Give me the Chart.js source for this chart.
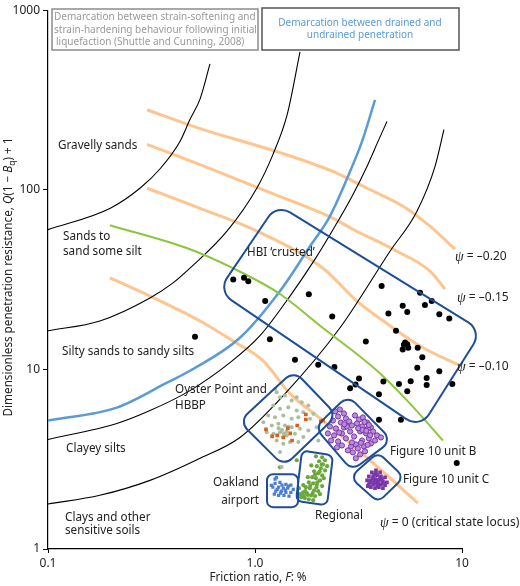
<!DOCTYPE html>
<html>
<head>
<meta charset="utf-8">
<script src="https://cdn.jsdelivr.net/npm/chart.js@4.4.0/dist/chart.umd.min.js"></script>
<style>
  body { margin: 0; background: #fff; }
  #wrap { width: 520px; height: 586px; }
</style>
</head>
<body>
<div id="wrap"><canvas id="myChart" width="520" height="586"></canvas></div>
<script>
// axis ticks
const xTicks = [0.1, 1, 10];
const xTickLabels = ['0.1', '1.0', '10'];
const yTicks = [1, 10, 100, 1000];
const yTickLabels = ['1', '10', '100', '1000'];

// soil behaviour boundaries, points are [F %, Q(1-Bq)+1]
const boundaryGravel = [[0.1,60],[0.2,79],[0.278,102],[0.348,131],[0.434,186],[0.485,246],[0.543,321],[0.606,502]];
const boundarySands = [[0.1,16.4],[0.178,18.6],[0.311,25],[0.402,30.3],[0.485,36.6],[0.732,58.8],[1.02,102],[1.22,157],[1.43,262],[1.65,586]];
const boundarySilts = [[0.1,4.07],[0.215,5.0],[0.311,5.9],[0.485,7.62],[0.757,10.9],[1.057,15.4],[1.476,25.6],[1.95,41.1],[2.435,62.7],[2.94,91.9],[3.475,135],[3.93,186],[4.34,240]];
const boundaryClays = [[0.1,1.78],[0.178,1.99],[0.311,2.41],[0.543,3.2],[0.846,4.18],[1.37,7.15],[2.57,17],[4.49,45.5],[6.06,76],[7.41,135],[8.18,216]];

// drained / undrained and strain softening / hardening lines
const drainedLine = [[0.1,5.19],[0.215,6.13],[0.376,8.44],[0.485,9.83],[0.846,15.0],[1.321,27.3],[1.844,48.5],[2.30,71.2],[2.97,138],[3.29,186],[3.80,317]];
const softeningLine = [[0.199,63.5],[0.485,46.7],[0.783,36.6],[1.32,26.3],[2.13,17.0],[3.89,9.83],[5.61,6.45],[8.09,4.02]];

// state parameter contours
const psiM020 = [[0.301,279],[0.543,219],[1.277,163],[2.38,126.5],[3.475,102],[5.19,81],[7.0,62.7],[9.25,46.7]];
const psiM015 = [[0.301,179],[0.543,138],[1.143,98],[2.382,69.4],[2.974,60.3],[4.85,45.5],[7.0,35.3],[8.28,28.0]];
const psiM010 = [[0.301,102],[0.543,78.8],[1.023,58.8],[2.13,36.6],[3.11,24.0],[4.49,17.5],[6.48,13.2],[9.78,10.5]];
const psi0 = [[0.199,32.3],[0.311,25.6],[0.543,18.6],[0.783,14.4],[1.093,11.2],[1.476,7.33],[2.13,5.19],[3.59,3.12],[6.13,1.80]];

// site data
const hbiPts = [[0.785,31.7],[0.885,32.4],[0.928,31.0],[1.12,24.0],[1.82,26.2],[2.36,19.7],[4.09,29.1],[6.27,26.7],[7.14,24.0],[6.62,22.8],[5.17,22.6],[5.44,20.9],[7.77,20.3],[8.68,19.2],[4.41,20.5],[4.80,16.4],[3.43,14.3],[5.31,14.1],[5.44,13.8],[5.17,12.9],[6.11,13.2],[6.43,11.7],[6.08,10.2],[7.77,9.75],[5.65,8.58],[6.75,8.96],[6.75,8.19],[4.96,8.30],[4.17,8.55],[5.44,7.55],[3.97,7.27],[3.06,8.23],[3.18,8.91],[2.88,7.85],[2.42,10.3],[2.02,10.6],[1.56,11.3],[1.18,14.7],[0.513,15.2],[3.97,5.24],[5.07,5.24],[8.98,8.30],[9.43,3.01],[5.24,13.7],[5.5,13.2]];
const oysterPts = [[1.273,7.455],[1.321,6.995],[1.396,7.148],[1.590,6.995],[1.504,6.706],[1.681,6.562],[1.810,6.291],[1.226,6.291],[1.321,6.032],[1.449,6.156],[1.590,5.903],[1.712,5.775],[1.913,5.659],[1.159,5.536],[1.250,5.417],[1.370,5.536],[1.504,5.308],[1.619,5.417],[1.844,5.308],[1.097,5.081],[1.205,4.873],[1.296,4.980],[1.396,4.873],[1.504,4.768],[1.650,4.672],[1.810,4.571],[1.987,4.768],[1.139,4.473],[1.226,4.382],[1.321,4.473],[1.423,4.289],[1.560,4.382],[1.712,4.197],[2.022,4.023],[1.273,4.023],[1.370,3.857],[1.476,3.937],[1.619,3.937],[1.321,3.465],[1.346,2.861],[1.250,7.785],[1.35,4.6],[1.42,4.5],[1.30,4.7],[1.45,4.8],[1.38,4.4]];
const hbbpPts = [[1.76,5.61],[1.76,5.26],[1.60,4.87],[1.48,4.40],[1.28,4.29],[1.13,4.63],[2.08,5.13],[2.13,5.20],[1.51,4.02],[1.37,4.18],[1.44,4.69],[1.21,4.24]];
const unitBPts = [[2.44,5.83],[2.57,5.98],[2.69,5.68],[2.52,5.47],[2.75,5.33],[2.38,5.19],[2.60,5.06],[2.85,5.13],[2.30,4.81],[2.46,4.69],[2.69,4.75],[2.94,4.87],[2.25,4.40],[2.41,4.29],[2.63,4.40],[2.88,4.51],[2.33,4.02],[2.52,3.97],[2.75,4.13],[3.01,4.23],[3.04,5.54],[3.18,5.26],[3.32,5.40],[3.11,5.00],[3.29,4.81],[3.48,5.06],[3.63,4.75],[3.22,4.51],[3.44,4.40],[3.72,4.51],[3.89,4.29],[3.55,4.13],[3.29,4.02],[3.07,3.82],[2.91,3.73],[3.14,3.63],[3.36,3.73],[3.63,3.87],[2.97,3.45],[3.22,3.36],[2.81,3.54],[3.07,3.20],[2.63,3.77],[2.49,3.68],[3.80,4.02],[4.06,4.18],[3.40,3.50],[3.51,4.69],[2.94,3.92],[2.78,4.81],[3.3,4.6],[3.45,4.55],[3.55,4.9],[3.38,5.1],[3.15,4.7],[3.6,4.3],[3.25,3.9],[3.5,3.8],[2.55,4.45],[2.7,4.95]];
const unitCPts = [[3.67,2.67],[3.84,2.74],[4.02,2.67],[3.55,2.54],[3.72,2.54],[3.89,2.57],[4.06,2.54],[4.25,2.51],[3.48,2.41],[3.63,2.41],[3.80,2.45],[3.97,2.41],[4.15,2.38],[4.34,2.35],[3.55,2.29],[3.72,2.29],[3.89,2.32],[4.06,2.29],[4.25,2.27],[3.63,2.21],[3.80,2.18],[3.97,2.21],[4.15,2.18],[3.89,2.24],[3.76,2.35],[4.02,2.48],[3.84,2.64],[3.51,2.24],[3.7,2.47],[3.92,2.42],[4.1,2.45],[3.78,2.6],[3.95,2.3],[4.2,2.32],[3.6,2.35]];
const oaklandPts = [[1.25,2.32],[1.32,2.35],[1.41,2.29],[1.49,2.27],[1.22,2.21],[1.30,2.21],[1.37,2.18],[1.44,2.18],[1.53,2.15],[1.26,2.10],[1.34,2.10],[1.41,2.07],[1.49,2.07],[1.30,1.99],[1.38,1.99],[1.46,1.97],[1.24,2.02],[1.35,2.27],[1.28,2.15],[1.40,2.13],[1.33,2.05],[1.45,2.24],[1.20,2.26],[1.25,2.45],[1.27,2.5]];
const regionalPts = [[2.11,3.24],[2.18,3.12],[2.04,3.08],[2.13,2.96],[1.99,2.89],[2.08,2.81],[2.18,2.74],[1.93,2.71],[2.02,2.64],[2.11,2.57],[1.89,2.51],[1.97,2.48],[2.06,2.41],[1.82,2.35],[1.91,2.32],[1.99,2.27],[1.76,2.21],[1.84,2.18],[1.93,2.12],[2.02,2.10],[1.71,2.07],[1.78,2.05],[1.87,1.99],[1.95,1.97],[1.67,1.94],[1.74,1.92],[1.82,1.89],[1.91,1.87],[1.65,2.02],[2.06,2.02],[2.11,2.24],[2.15,2.48],[2.23,2.89],[1.59,3.12],[1.32,2.85],[1.71,2.27],[1.63,2.18],[1.80,2.51],[1.87,2.92],[1.97,3.28],[1.95,2.6],[2.0,2.35],[1.85,2.25],[1.9,2.05],[1.8,2.0],[2.05,2.7],[1.75,2.1],[2.1,2.95],[1.98,2.2],[1.72,1.98]];

// group outlines (corner points in F, Q)
const hbiBox = [[1.277,83],[12.5,16.4],[6.27,4.69],[0.663,27.3]];
const oysterBox = [[1.543,9.83],[2.489,5.54],[1.381,2.89],[0.837,5.13]];
const unitBBox = [[2.813,7.15],[4.59,4.02],[2.941,2.74],[1.95,4.75]];
const unitCBox = [[3.93,3.45],[5.25,2.51],[3.93,1.82],[2.876,2.51]];
const oaklandBox = [[1.143,2.61],[1.614,2.61],[1.614,1.71],[1.143,1.71]];
const regionalBox = [[1.687,3.54],[2.382,3.32],[2.227,1.75],[1.578,1.85]];

const FONT = '"Noto Sans", sans-serif';
const xy = arr => arr.map(p => ({ x: p[0], y: p[1] }));

function lineSet(arr, color, width, order) {
  return { data: xy(arr), showLine: true, borderColor: color, borderWidth: width,
    pointRadius: 0, fill: false, cubicInterpolationMode: 'monotone', order: order };
}
function dotSet(arr, style, radius, fillCol, edgeCol, order) {
  return { data: xy(arr), showLine: false, pointStyle: style, pointRadius: radius,
    backgroundColor: fillCol, borderColor: edgeCol, borderWidth: edgeCol === fillCol ? 0 : 1, order: order };
}

function roundPoly(ctx, pts, r) {
  const n = pts.length;
  const a = pts[n - 1], b = pts[0];
  ctx.beginPath();
  ctx.moveTo((a[0] + b[0]) / 2, (a[1] + b[1]) / 2);
  for (let i = 0; i < n; i++) {
    const p = pts[i], q = pts[(i + 1) % n];
    ctx.arcTo(p[0], p[1], q[0], q[1], r);
  }
  ctx.closePath();
  ctx.stroke();
}

// text made of parts, some italic or subscript
function rich(ctx, parts, x, y, align, size) {
  const fonts = parts.map(p => (p.i ? 'italic ' : '') + (p.s ? size * 0.72 : (p.big || size)) + 'px ' + (p.f || FONT));
  let w = 0;
  parts.forEach((p, k) => { ctx.font = fonts[k]; w += ctx.measureText(p.t).width; });
  let cx = align === 'center' ? x - w / 2 : align === 'right' ? x - w : x;
  ctx.textAlign = 'left';
  ctx.textBaseline = 'middle';
  parts.forEach((p, k) => {
    ctx.font = fonts[k];
    ctx.fillText(p.t, cx, p.s ? y + size * 0.3 : y);
    cx += ctx.measureText(p.t).width;
  });
}

function psiLabel(ctx, rest, x, y) {
  rich(ctx, [{ t: 'ψ', i: true, f: '"Liberation Serif", serif', big: 14 }, { t: rest }], x, y, 'left', 12);
}

const overlay = {
  id: 'overlay',
  afterDatasetsDraw(chart) {
    const ctx = chart.ctx, xs = chart.scales.x, ys = chart.scales.y;
    const px = p => [xs.getPixelForValue(p[0]), ys.getPixelForValue(p[1])];
    ctx.save();
    ctx.strokeStyle = '#1f4e96';
    ctx.lineWidth = 2;
    roundPoly(ctx, hbiBox.map(px), 16);
    roundPoly(ctx, oysterBox.map(px), 11);
    roundPoly(ctx, unitBBox.map(px), 10);
    roundPoly(ctx, unitCBox.map(px), 8);
    roundPoly(ctx, oaklandBox.map(px), 6);
    roundPoly(ctx, regionalBox.map(px), 6);
    ctx.restore();
  },
  afterDraw(chart) {
    const ctx = chart.ctx;
    ctx.save();
    ctx.fillStyle = '#222';
    const lab = (t, x, y, al) => rich(ctx, [{ t: t }], x, y, al || 'left', 11.7);
    lab('Gravelly sands', 58, 146);
    lab('Sands to', 63, 237);
    lab('sand some silt', 63, 252);
    lab('Silty sands to sandy silts', 62, 352);
    lab('Oyster Point and', 175, 390);
    lab('HBBP', 175, 406);
    lab('Clayey silts', 66, 449);
    lab('Clays and other', 65, 518);
    lab('sensitive soils', 65, 531);
    lab('Oakland', 259, 483, 'right');
    lab('airport', 259, 501, 'right');
    lab('Regional', 315, 516);
    lab('HBI ‘crusted’', 247, 253);
    lab('Figure 10 unit B', 390, 452);
    lab('Figure 10 unit C', 403, 480);
    psiLabel(ctx, ' = –0.20', 455, 257);
    psiLabel(ctx, ' = –0.15', 457, 298);
    psiLabel(ctx, ' = –0.10', 457, 367);
    psiLabel(ctx, ' = 0 (critical state locus)', 380, 523);

    // axis titles
    rich(ctx, [{ t: 'Friction ratio, ' }, { t: 'F', i: true }, { t: ': %' }], 258, 578, 'center', 11.7);
    ctx.save();
    ctx.translate(9, 277);
    ctx.rotate(-Math.PI / 2);
    rich(ctx, [{ t: 'Dimensionless penetration resistance, ' }, { t: 'Q', i: true }, { t: '(1 − ' },
      { t: 'B', i: true }, { t: 'q', s: true }, { t: ') + 1' }], 0, 0, 'center', 11.7);
    ctx.restore();

    // the two boxed notes at the top
    ctx.lineWidth = 1.5;
    ctx.strokeStyle = '#8c8c8c';
    ctx.fillStyle = '#fff';
    ctx.fillRect(52, 9, 206, 41);
    ctx.strokeRect(52, 9, 206, 41);
    ctx.strokeStyle = '#555';
    ctx.fillRect(262, 8, 197, 42);
    ctx.strokeRect(262, 8, 197, 42);
    ctx.font = '10px ' + FONT;
    ctx.textBaseline = 'middle';
    ctx.textAlign = 'left';
    ctx.fillStyle = '#9a9a9a';
    ctx.fillText('Demarcation between strain-softening and', 54, 17);
    ctx.fillText('strain-hardening behaviour following initial', 54, 30);
    ctx.fillText('liquefaction (Shuttle and Cunning, 2008)', 56, 42);
    ctx.textAlign = 'center';
    ctx.fillStyle = '#5b9bd5';
    ctx.fillText('Demarcation between drained and', 360, 23);
    ctx.fillText('undrained penetration', 360, 35);
    ctx.restore();
  }
};

const ctx = document.getElementById('myChart');

const myChart = new Chart(ctx, {
  type: 'scatter',
  data: {
    datasets: [
      lineSet(psiM020, '#fdc590', 3, 20),
      lineSet(psiM015, '#fdc590', 3, 20),
      lineSet(psiM010, '#fdc590', 3, 20),
      lineSet(psi0, '#fdc590', 3, 20),
      lineSet(boundaryGravel, '#000', 1.1, 15),
      lineSet(boundarySands, '#000', 1.1, 15),
      lineSet(boundarySilts, '#000', 1.1, 15),
      lineSet(boundaryClays, '#000', 1.1, 15),
      lineSet(drainedLine, '#5b9bd5', 2.5, 14),
      lineSet(softeningLine, '#8cc63f', 2, 13),
      dotSet(oysterPts, 'circle', 2, '#a8bea0', '#a8bea0', 8),
      dotSet(hbbpPts, 'rect', 2.6, '#d8601a', '#d8601a', 7),
      dotSet(regionalPts, 'circle', 2.1, '#6aa83c', '#6aa83c', 8),
      dotSet(oaklandPts, 'rect', 2.3, '#4a7fd2', '#4a7fd2', 8),
      dotSet(unitBPts, 'circle', 2.6, '#b98bdb', '#7a35a8', 8),
      dotSet(unitCPts, 'rect', 2.6, '#7a35a8', '#7a35a8', 8),
      dotSet(hbiPts, 'circle', 3, '#000', '#000', 5)
    ]
  },
  options: {
    responsive: false,
    animation: false,
    layout: { padding: { top: 8, right: 58, left: 0, bottom: 0 } },
    plugins: { legend: { display: false }, tooltip: { enabled: false } },
    scales: {
      x: {
        type: 'logarithmic', min: 0.1, max: 10,
        afterBuildTicks: s => { s.ticks = xTicks.map(v => ({ value: v })); },
        afterFit: s => { s.height = 37; },
        ticks: {
          callback: v => xTickLabels[xTicks.indexOf(v)] ?? '',
          autoSkip: false, maxRotation: 0, padding: 3,
          color: '#222', font: { family: FONT, size: 12 }
        },
        grid: { drawOnChartArea: false, drawTicks: true, tickLength: 4, color: '#000' },
        border: { color: '#000', width: 1.2 }
      },
      y: {
        type: 'logarithmic', min: 1, max: 1000,
        afterBuildTicks: s => { s.ticks = yTicks.map(v => ({ value: v })); },
        afterFit: s => { s.width = 48; },
        ticks: {
          callback: v => yTickLabels[yTicks.indexOf(v)] ?? '',
          autoSkip: false, padding: 3,
          color: '#222', font: { family: FONT, size: 12 }
        },
        grid: { drawOnChartArea: false, drawTicks: true, tickLength: 5, color: '#000' },
        border: { color: '#000', width: 1.2 }
      }
    }
  },
  plugins: [overlay]
});
</script>
</body>
</html>
